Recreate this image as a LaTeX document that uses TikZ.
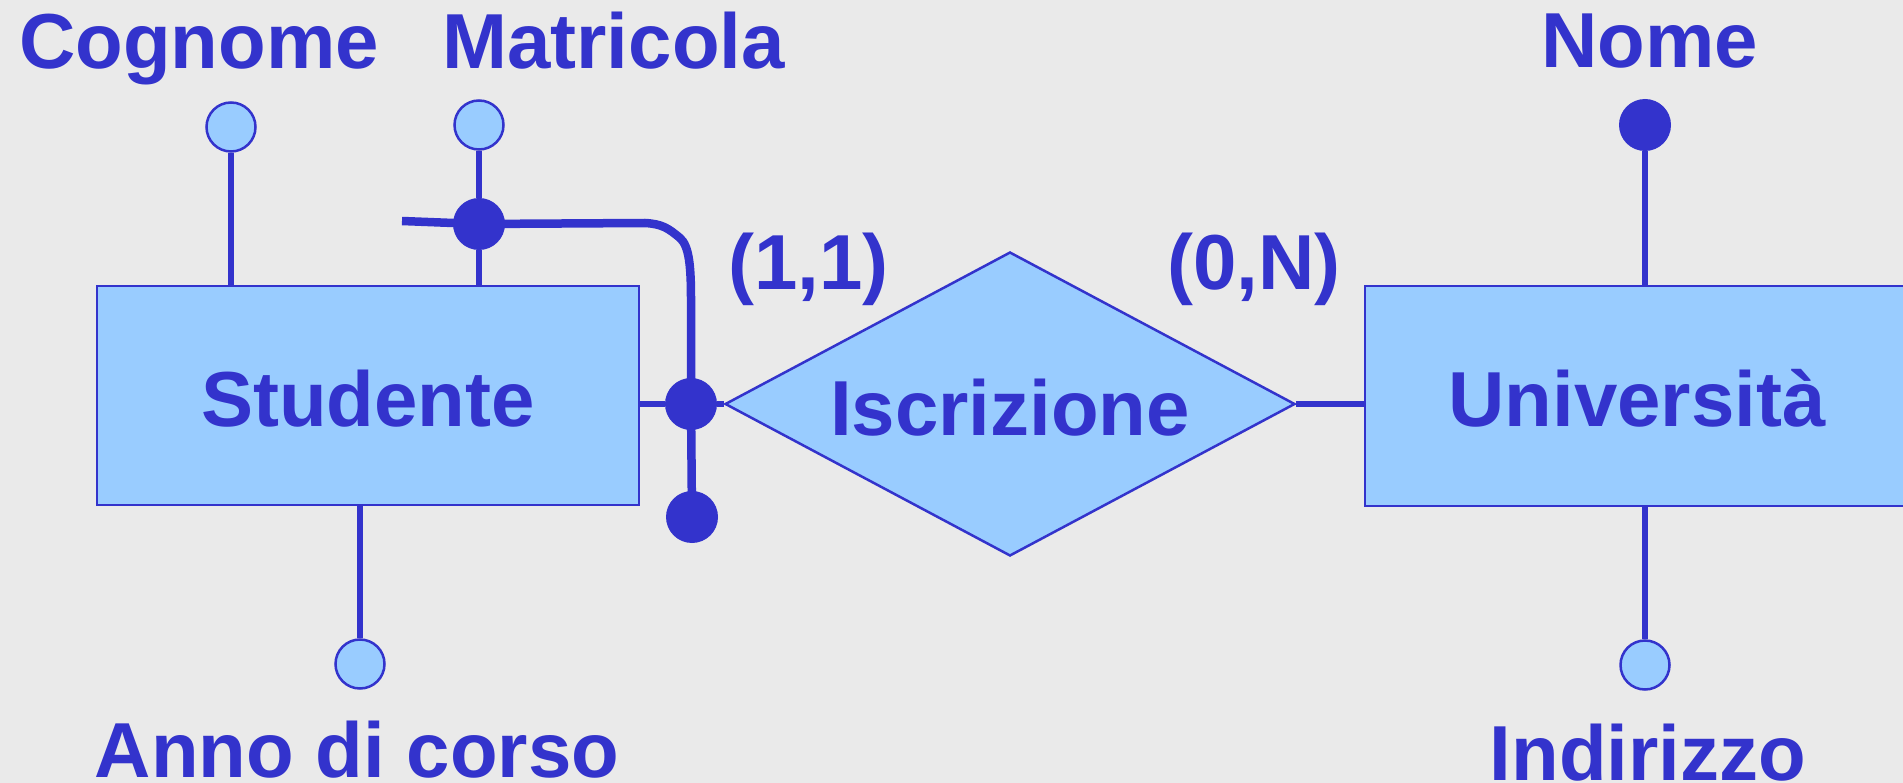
\documentclass[tikz,border=0pt]{standalone}
\usepackage{fontspec}
\setmainfont{Liberation Sans}
\usetikzlibrary{shapes.geometric}
\definecolor{erblue}{HTML}{3333CC}
\definecolor{erfill}{HTML}{99CCFF}
\definecolor{erbg}{HTML}{EAEAEA}
\begin{document}
\begin{tikzpicture}[x=1pt,y=-1pt,
  bigfont/.style={font=\fontsize{78}{90}\selectfont\bfseries, text=erblue},
  lbl/.style={bigfont, inner sep=0pt, anchor=base},
  entity/.style={rectangle, draw=erblue, line width=2.5pt, fill=erfill, inner sep=0pt, bigfont, text depth=0pt},
  relship/.style={diamond, aspect=1.875, draw=erblue, line width=2.5pt, fill=erfill, inner sep=0pt, bigfont, text depth=0pt},
  attr/.style={circle, draw=erblue, line width=2.5pt, fill=erfill, minimum size=49pt, inner sep=0pt},
  keyattr/.style={circle, fill=erblue, minimum size=52pt, inner sep=0pt},
  link/.style={draw=erblue, line width=5.5pt},
  idlink/.style={draw=erblue, line width=8.5pt}]
\useasboundingbox (0,0) rectangle (1903,783);
\clip (0,0) rectangle (1903,783);
\fill[erbg] (0,0) rectangle (1903,783);

% entities and relationship
\node[entity, minimum width=542pt, minimum height=219pt, text height=61pt] (stud) at (368,395.5) {Studente};
\node[entity, minimum width=544pt, minimum height=220pt, text height=60pt] (univ) at (1637,396) {Università};
\node[relship, minimum width=570pt, minimum height=304pt, text height=62pt] (rel) at (1010,404) {Iscrizione};

% attribute circles
\node[attr] (cogn) at (231,127) {};
\node[attr] (matr) at (479,125) {};
\node[attr] (anno) at (360,664) {};
\node[attr] (indir) at (1645,665) {};
\node[keyattr] (nome) at (1645,125) {};
\node[keyattr] (idm) at (479,224) {};
\node[keyattr] (junc) at (691,404) {};
\node[keyattr] (idend) at (692,517) {};

% labels
\node[lbl] (tcogn) at (199,69) {Cognome};
\node[lbl] (tmatr) at (613.5,69) {Matricola};
\node[lbl] (tnome) at (1650,68) {Nome};
\node[lbl] (tanno) at (357,777) {Anno di corso};
\node[lbl] (tindir) at (1648,780) {Indirizzo};
\node[lbl] (c11) at (808.5,290) {(1,1)};
\node[lbl] (c0n) at (1254,290) {(0,N)};

% connectors
\draw[link] (cogn) -- (cogn |- stud.north);
\draw[link] (matr) -- (idm) -- (idm |- stud.north);
\draw[link] (anno) -- (anno |- stud.south);
\draw[link] (nome) -- (nome |- univ.north);
\draw[link] (indir) -- (indir |- univ.south);
\draw[link] (stud.east |- junc) -- (junc) -- (rel.west);
\draw[link] (rel.east) -- (univ.west |- rel.east);

% external identifier
\coordinate (idstart) at (402,221);
\draw[idlink] (idstart) -- (idm.center) -- (645,223)
  .. controls (662,224) and (668,228) .. (680,238)
  .. controls (689,246) and (691,265) .. (691,300)
  -- (junc.center) -- (idend.center);
\end{tikzpicture}
\end{document}
